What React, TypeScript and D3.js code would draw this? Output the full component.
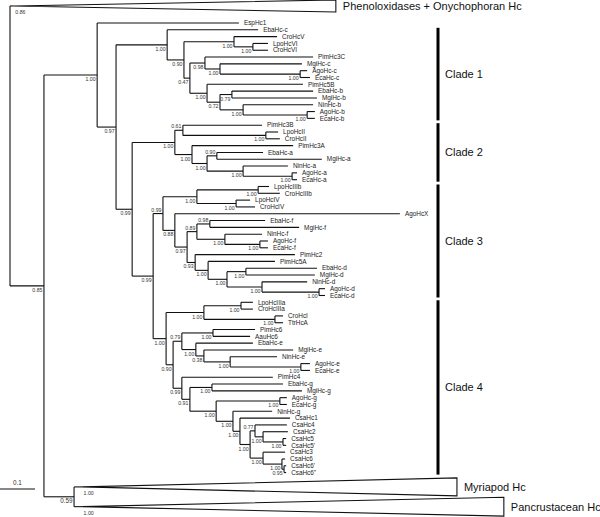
import React from "react";
import * as d3 from "d3";

const W = 600;
const H = 517;

// internal nodes: id, parent, depth (subst./site from root), support, label above branch
const internalNodes: [string, string | null, number, string, boolean][] = [
  ["root", null, 0, "", false],
  ["A", "root", 0.097, "0.85", false],
  ["MP", "A", 0.183, "0.59", false],
  ["B", "A", 0.249, "1.00", false],
  ["D", "B", 0.303, "0.97", false],
  ["F", "D", 0.449, "1.00", false],
  ["G", "F", 0.497, "0.90", false],
  ["H", "G", 0.64, "1.00", false],
  ["I", "H", 0.694, "1.00", false],
  ["J", "G", 0.514, "0.47", false],
  ["K", "J", 0.557, "0.98", false],
  ["M", "K", 0.6, "1.00", false],
  ["N", "M", 0.829, "1.00", false],
  ["L", "J", 0.563, "1.00", false],
  ["P", "L", 0.6, "0.72", false],
  ["Q", "P", 0.634, "0.79", false],
  ["R", "P", 0.666, "1.00", false],
  ["S", "R", 0.849, "1.00", false],
  ["E", "D", 0.349, "0.99", false],
  ["C2", "E", 0.471, "1.00", false],
  ["C2a", "C2", 0.494, "0.61", true],
  ["C2a1", "C2a", 0.731, "1.00", false],
  ["C2b", "C2", 0.52, "1.00", false],
  ["C2c", "C2b", 0.563, "1.00", false],
  ["C2d", "C2c", 0.591, "0.90", true],
  ["C2e", "C2c", 0.666, "1.00", false],
  ["C2f", "C2e", 0.806, "1.00", false],
  ["E2", "E", 0.409, "0.99", false],
  ["C3", "E2", 0.437, "0.99", true],
  ["C3a", "C3", 0.534, "1.00", false],
  ["C3a1", "C3a", 0.709, "1.00", false],
  ["C3a2", "C3a", 0.646, "1.00", false],
  ["C3b", "C3", 0.471, "0.88", false],
  ["C3c", "C3b", 0.506, "0.97", false],
  ["C3d", "C3c", 0.534, "0.89", true],
  ["C3e", "C3d", 0.571, "0.98", true],
  ["C3f", "C3d", 0.614, "1.00", false],
  ["C3g", "C3f", 0.714, "1.00", false],
  ["C3h", "C3c", 0.529, "0.93", false],
  ["C3i", "C3h", 0.566, "1.00", false],
  ["C3j", "C3i", 0.62, "1.00", false],
  ["C3k", "C3j", 0.674, "1.00", false],
  ["C3l", "C3j", 0.72, "1.00", false],
  ["C3m", "C3l", 0.883, "1.00", false],
  ["C4", "E2", 0.446, "1.00", false],
  ["C4c", "C4", 0.554, "1.00", false],
  ["C4c1", "C4c", 0.66, "1.00", false],
  ["C4c2", "C4c", 0.757, "1.00", false],
  ["C4b", "C4", 0.466, "0.90", false],
  ["C4d", "C4b", 0.491, "0.79", true],
  ["C4f", "C4d", 0.58, "1.00", false],
  ["C4g", "C4d", 0.531, "1.00", false],
  ["C4h", "C4g", 0.554, "0.38", false],
  ["C4i", "C4h", 0.629, "1.00", false],
  ["C4j", "C4i", 0.831, "1.00", false],
  ["C4e", "C4b", 0.491, "0.99", false],
  ["C4k", "C4e", 0.514, "0.91", false],
  ["C4l", "C4k", 0.577, "1.00", false],
  ["C4m", "C4k", 0.589, "1.00", false],
  ["C4n", "C4m", 0.771, "1.00", false],
  ["C4o", "C4m", 0.637, "1.00", false],
  ["C4p", "C4o", 0.657, "1.00", false],
  ["C4q", "C4p", 0.686, "1.00", false],
  ["C4r", "C4q", 0.7, "0.77", true],
  ["C4s", "C4r", 0.723, "1.00", false],
  ["C4t", "C4s", 0.78, "1.00", false],
  ["C4u", "C4q", 0.723, "1.00", false],
  ["C4v", "C4u", 0.777, "1.00", false],
  ["C4w", "C4v", 0.783, "0.95", false],
];

// leaves in display order: name, parent, depth
const leaves: [string, string, number][] = [
  ["EspHc1", "B", 0.654],
  ["EbaHc-c", "F", 0.709],
  ["CroHcV", "H", 0.763],
  ["LpoHcVI", "I", 0.737],
  ["CroHcVI", "I", 0.737],
  ["PimHc3C", "K", 0.866],
  ["MgiHc-c", "M", 0.834],
  ["AgoHc-c", "N", 0.849],
  ["EcaHc-c", "N", 0.857],
  ["PimHc5B", "L", 0.837],
  ["EbaHc-b", "Q", 0.866],
  ["MgiHc-b", "Q", 0.877],
  ["NinHc-b", "R", 0.866],
  ["AgoHc-b", "S", 0.871],
  ["EcaHc-b", "S", 0.871],
  ["PimHc3B", "C2a", 0.72],
  ["LpoHcII", "C2a1", 0.766],
  ["CroHcII", "C2a1", 0.771],
  ["PimHc3A", "C2b", 0.809],
  ["EbaHc-a", "C2d", 0.723],
  ["MgiHc-a", "C2d", 0.891],
  ["NinHc-a", "C2e", 0.794],
  ["AgoHc-a", "C2f", 0.82],
  ["EcaHc-a", "C2f", 0.82],
  ["LpoHcIIIb", "C3a1", 0.74],
  ["CroHcIIIb", "C3a1", 0.771],
  ["LpoHcIV", "C3a2", 0.686],
  ["CroHcIV", "C3a2", 0.7],
  ["AgoHcX", "C3b", 1.114],
  ["EbaHc-f", "C3e", 0.729],
  ["MgiHc-f", "C3e", 0.826],
  ["NinHc-f", "C3f", 0.72],
  ["AgoHc-f", "C3g", 0.737],
  ["EcaHc-f", "C3g", 0.737],
  ["PimHc2", "C3h", 0.814],
  ["PimHc5A", "C3i", 0.757],
  ["EbaHc-d", "C3k", 0.877],
  ["MgiHc-d", "C3k", 0.871],
  ["NinHc-d", "C3l", 0.849],
  ["AgoHc-d", "C3m", 0.9],
  ["EcaHc-d", "C3m", 0.9],
  ["LpoHcIIIa", "C4c1", 0.694],
  ["CroHcIIIa", "C4c1", 0.694],
  ["CroHcI", "C4c2", 0.78],
  ["TtrHcA", "C4c2", 0.78],
  ["PimHc6", "C4f", 0.7],
  ["AauHc6", "C4f", 0.686],
  ["EbaHc-e", "C4g", 0.694],
  ["MgiHc-e", "C4h", 0.809],
  ["NinHc-e", "C4i", 0.763],
  ["AgoHc-e", "C4j", 0.857],
  ["EcaHc-e", "C4j", 0.857],
  ["PimHc4", "C4e", 0.751],
  ["EbaHc-g", "C4l", 0.78],
  ["MgiHc-g", "C4l", 0.834],
  ["AgoHc-g", "C4n", 0.791],
  ["EcaHc-g", "C4n", 0.791],
  ["NinHc-g", "C4o", 0.749],
  ["CsaHc1", "C4p", 0.8],
  ["CsaHc4", "C4r", 0.791],
  ["CsaHc2", "C4s", 0.794],
  ["CsaHc5", "C4t", 0.789],
  ["CsaHc5'", "C4t", 0.789],
  ["CsaHc3", "C4u", 0.786],
  ["CsaHc6", "C4v", 0.786],
  ["CsaHc6'", "C4w", 0.789],
  ['CsaHc6"', "C4w", 0.789],
];

// collapsed subtrees: name, parent, apex depth, end depth, slot (center), half-height in slots, support
const collapsed: [string, string, number, number, number, number, string][] = [
  ["Phenoloxidases + Onychophoran Hc", "root", 0.011, 0.931, -2.5, 0.88, "0.86"],
  ["Myriapod Hc", "MP", 0.206, 1.277, 68.1, 1.32, "1.00"],
  ["Pancrustacean Hc", "MP", 0.206, 1.411, 71.0, 1.39, "1.00"],
];

// clade brackets: label, first leaf, last leaf
const clades: [string, string, string][] = [
  ["Clade 1", "EbaHc-c", "EcaHc-b"],
  ["Clade 2", "PimHc3B", "EcaHc-a"],
  ["Clade 3", "LpoHcIIIb", "EcaHc-d"],
  ["Clade 4", "LpoHcIIIa", 'CsaHc6"'],
];

const scaleBarValue = 0.1;
const scaleBarLabel = "0.1";

type Row = {
  id: string;
  parent: string | null;
  depth: number;
  kind: "node" | "leaf" | "clade";
  support?: string;
  above?: boolean;
  slot?: number;
  end?: number;
  half?: number;
};

const FONT = "'Liberation Sans', Arial, Helvetica, sans-serif";

export default function App() {
  const x = d3.scaleLinear().domain([0, 1]).range([10, 360]);
  const y = d3.scaleLinear().domain([0, leaves.length - 1]).range([23, 472.6]);
  const step = y(1) - y(0);

  const rows: Row[] = [
    ...internalNodes.map(([id, parent, depth, support, above]) => ({
      id, parent, depth, support, above, kind: "node" as const,
    })),
    ...leaves.map(([id, parent, depth], i) => ({
      id, parent, depth, slot: i, kind: "leaf" as const,
    })),
    ...collapsed.map(([id, parent, depth, end, slot, half, support]) => ({
      id, parent, depth, end, slot, half, support, kind: "clade" as const,
    })),
  ];

  const root = d3
    .stratify<Row>()
    .id((d) => d.id)
    .parentId((d) => d.parent)(rows);

  const py = new Map<string, number>();
  root.eachAfter((n) => {
    if (n.children && n.children.length) {
      const ys = n.children.map((c) => py.get(c.data.id) as number);
      py.set(n.data.id, (d3.min(ys)! + d3.max(ys)!) / 2);
    } else {
      py.set(n.data.id, y(n.data.slot as number));
    }
  });

  const nodes = root.descendants();
  const hLines: JSX.Element[] = [];
  const vLines: JSX.Element[] = [];
  const supports: JSX.Element[] = [];
  const leafLabels: JSX.Element[] = [];
  const triangles: JSX.Element[] = [];

  nodes.forEach((n, i) => {
    const d = n.data;
    const ny = py.get(d.id)!;
    const nx = x(d.depth);
    if (n.parent) {
      const px = x(n.parent.data.depth);
      hLines.push(
        <line key={"h" + i} x1={px} x2={nx} y1={ny} y2={ny} stroke="#111" strokeWidth={1.1} />
      );
    }
    if (n.children && n.children.length) {
      const ys = n.children.map((c) => py.get(c.data.id)!);
      vLines.push(
        <line key={"v" + i} x1={nx} x2={nx} y1={d3.min(ys)!} y2={d3.max(ys)!} stroke="#111" strokeWidth={1.1} />
      );
      if (d.support) {
        supports.push(
          <text
            key={"s" + i}
            x={nx - 1.5}
            y={d.above ? ny - 2 : ny + 6}
            textAnchor="end"
            fontSize={d.id === "MP" ? 6.3 : 5.2}
            fill="#333"
          >
            {d.support}
          </text>
        );
      }
    } else if (d.kind === "leaf") {
      leafLabels.push(
        <text key={"l" + i} x={nx + 5} y={ny} dy="0.35em" fontSize={6.4} fill="#222">
          {d.id}
        </text>
      );
    } else if (d.kind === "clade") {
      const ex = x(d.end!);
      const hh = d.half! * step;
      triangles.push(
        <g key={"t" + i}>
          <polygon
            points={`${nx},${ny} ${ex},${ny - hh} ${ex},${ny + hh}`}
            fill="#fff"
            stroke="#111"
            strokeWidth={1.1}
            strokeLinejoin="miter"
          />
          <text x={nx + 1.5} y={ny + 8} fontSize={5.2} fill="#333">
            {d.support}
          </text>
          <text x={ex + 7} y={ny} dy="0.35em" fontSize={11} fill="#111">
            {d.id}
          </text>
        </g>
      );
    }
  });

  const leafY = new Map<string, number>();
  leaves.forEach(([name], i) => leafY.set(name, y(i)));
  const cladeX = 438;

  const sbY = 489;
  const sbX0 = 0;
  const sbX1 = sbX0 + (x(scaleBarValue) - x(0));

  return (
    <svg
      width={W}
      height={H}
      viewBox={`0 0 ${W} ${H}`}
      style={{ position: "absolute", left: 0, top: 0, background: "#fff", fontFamily: FONT }}
    >
      <rect width={W} height={H} fill="#fff" />
      {triangles}
      {hLines}
      {vLines}
      {supports}
      {leafLabels}
      {clades.map(([label, a, b]) => {
        const y0 = leafY.get(a)! - 2;
        const y1 = leafY.get(b)! + 2;
        return (
          <g key={label}>
            <line x1={cladeX} x2={cladeX} y1={y0} y2={y1} stroke="#000" strokeWidth={3} />
            <text x={cladeX + 7} y={(y0 + y1) / 2} dy="0.35em" fontSize={11} fill="#111">
              {label}
            </text>
          </g>
        );
      })}
      <line x1={sbX0} x2={sbX1} y1={sbY} y2={sbY} stroke="#111" strokeWidth={1.1} />
      <text x={(sbX0 + sbX1) / 2} y={sbY - 4} textAnchor="middle" fontSize={6.3} fill="#333">
        {scaleBarLabel}
      </text>
    </svg>
  );
}
